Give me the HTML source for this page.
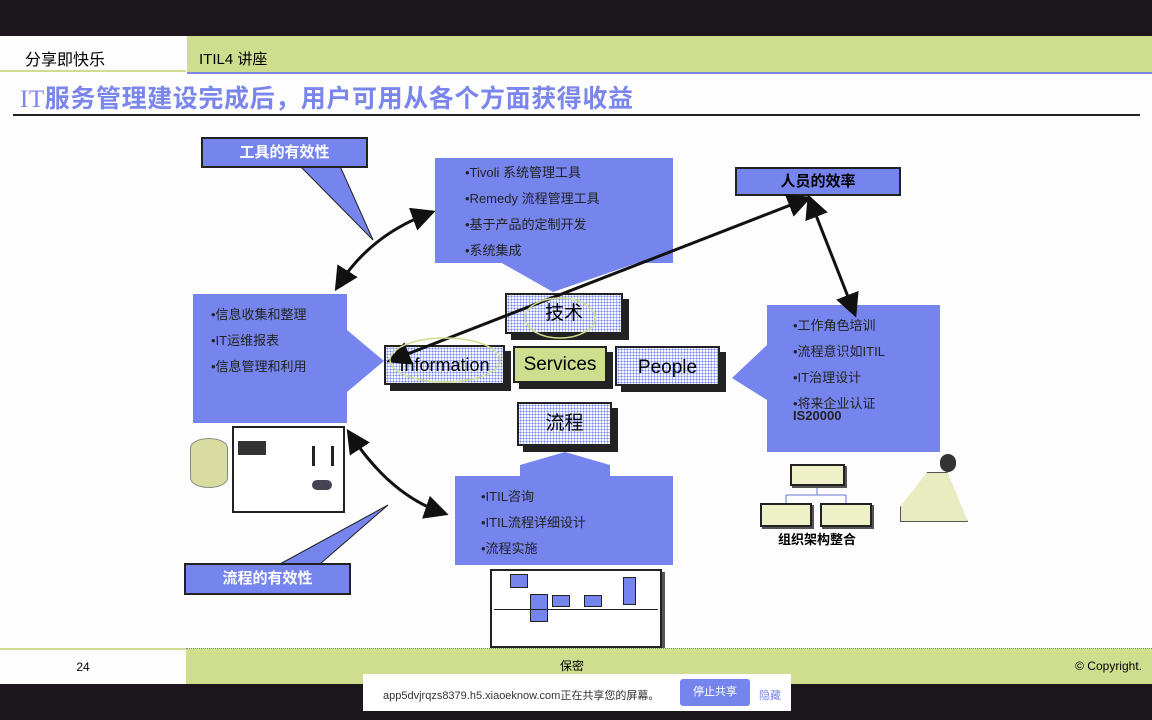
<!DOCTYPE html>
<html><head><meta charset="utf-8"><style>
body{margin:0;width:1152px;height:720px;background:#fcfdfc;position:relative;overflow:hidden;font-family:"Liberation Sans","Noto Sans CJK SC",sans-serif;}
.a{position:absolute;box-sizing:border-box;}
.blue{background:#7685ee;}
.t{font-size:13px;color:#222;line-height:26px;}
.dot{background-color:#f4f6ff;background-image:radial-gradient(#7685ee 0.8px,transparent 0.9px);background-size:3px 3px;border:2px solid #222;box-shadow:6px 6px 0 #222;text-align:center;}
</style></head><body>
<div class="a" style="left:0;top:0;width:1152px;height:36px;background:#1b171c"></div>
<div class="a" style="left:0;top:36px;width:186px;height:36px;border-bottom:2px solid #cfdd8f;font-size:16px;padding:10px 0 0 25px;">分享即快乐</div>
<div class="a" style="left:187px;top:36px;width:965px;height:38px;background:#cfdd8f;border-bottom:2px solid #7b86ec;font-size:15px;padding:12px 0 0 12px;">ITIL4 讲座</div>
<div class="a" style="left:20px;top:79px;font-size:25px;font-weight:bold;color:#7b86ec;letter-spacing:0.6px;"><span style="font-family:'Liberation Serif',serif;font-weight:normal">IT</span>服务管理建设完成后，用户可用从各个方面获得收益</div>
<div class="a" style="left:13px;top:114px;width:1127px;height:2px;background:#222"></div>

<svg class="a" style="left:0;top:0" width="1152" height="720">
<defs><marker id="m" markerWidth="8" markerHeight="8" refX="6" refY="4" orient="auto-start-reverse"><path d="M0,0L8,4L0,8z" fill="#111"/></marker></defs>
<polygon points="300,166 340,166 373,240" fill="#7685ee" stroke="#222"/>
<polygon points="500,262 640,262 553,292" fill="#7685ee"/>
<polygon points="347,330 347,392 384,361" fill="#7685ee"/>
<polygon points="767,345 767,400 732,378" fill="#7685ee"/>
<polygon points="520,476 610,476 610,465 565,452 520,465" fill="#7685ee"/>
<polygon points="280,564 320,564 388,505" fill="#7685ee" stroke="#222"/>
<g stroke="#9aa0e0" stroke-width="1.5" fill="none"><line x1="817" y1="487" x2="817" y2="495"/><line x1="786" y1="495" x2="846" y2="495"/><line x1="786" y1="495" x2="786" y2="503"/><line x1="846" y1="495" x2="846" y2="503"/></g>
</svg>

<div class="a blue" style="left:201px;top:137px;width:167px;height:31px;border:2px solid #222;color:#fff;font-size:15px;font-weight:bold;text-align:center;line-height:27px;">工具的有效性</div>
<div class="a blue t" style="left:435px;top:158px;width:238px;height:105px;padding:2px 0 0 30px;">•Tivoli 系统管理工具<br>•Remedy 流程管理工具<br>•基于产品的定制开发<br>•系统集成</div>
<div class="a blue t" style="left:193px;top:294px;width:154px;height:129px;padding:8px 0 0 18px;">•信息收集和整理<br>•IT运维报表<br>•信息管理和利用</div>
<div class="a blue" style="left:735px;top:167px;width:166px;height:29px;border:2px solid #222;font-size:15px;font-weight:bold;text-align:center;line-height:25px;">人员的效率</div>
<div class="a blue t" style="left:767px;top:305px;width:173px;height:147px;padding:8px 0 0 26px;">•工作角色培训<br>•流程意识如ITIL<br>•IT治理设计<br>•将来企业认证<br><b style="line-height:14px;display:block;margin-top:-8px">IS20000</b></div>
<div class="a blue t" style="left:455px;top:476px;width:218px;height:89px;padding:8px 0 0 26px;">•ITIL咨询<br>•ITIL流程详细设计<br>•流程实施</div>
<div class="a blue" style="left:184px;top:563px;width:167px;height:32px;border:2px solid #222;color:#fff;font-size:15px;font-weight:bold;text-align:center;line-height:28px;">流程的有效性</div>

<div class="a dot" style="left:505px;top:293px;width:118px;height:41px;font-size:19px;line-height:37px;">技术</div>
<div class="a dot" style="left:384px;top:345px;width:121px;height:40px;font-size:18px;line-height:36px;">Information</div>
<div class="a" style="left:513px;top:346px;width:94px;height:37px;background:#cfdd8f;border:2px solid #222;box-shadow:6px 6px 0 #222;font-size:19px;text-align:center;line-height:33px;">Services</div>
<div class="a dot" style="left:615px;top:346px;width:105px;height:40px;font-size:19px;line-height:40px;">People</div>
<div class="a dot" style="left:517px;top:402px;width:95px;height:44px;font-size:19px;line-height:40px;">流程</div>

<div class="a" style="left:190px;top:438px;width:38px;height:50px;border-radius:19px/10px;background:#d8dca0;border:1px solid #888"></div>
<div class="a" style="left:232px;top:426px;width:113px;height:87px;background:#fff;border:2px solid #222;"><div class="a" style="left:4px;top:13px;width:28px;height:14px;background:#333"></div><div class="a" style="left:78px;top:18px;width:22px;height:20px;border-left:3px solid #222;border-right:3px solid #222"></div><div class="a" style="left:78px;top:52px;width:20px;height:10px;background:#445;border-radius:6px"></div></div>
<div class="a" style="left:490px;top:569px;width:172px;height:79px;background:#fff;border:2px solid #222;box-shadow:3px 3px 0 #555;">
<div class="a" style="left:18px;top:3px;width:18px;height:14px;background:#7685ee;border:1px solid #222"></div>
<div class="a" style="left:38px;top:23px;width:18px;height:28px;background:#7685ee;border:1px solid #222"></div>
<div class="a" style="left:60px;top:24px;width:18px;height:12px;background:#7685ee;border:1px solid #222"></div>
<div class="a" style="left:92px;top:24px;width:18px;height:12px;background:#7685ee;border:1px solid #222"></div>
<div class="a" style="left:131px;top:6px;width:13px;height:28px;background:#7685ee;border:1px solid #222"></div>
<div class="a" style="left:2px;top:38px;width:164px;height:1px;background:#222"></div></div>

<div class="a" style="left:790px;top:464px;width:55px;height:22px;background:#eef0c8;border:2px solid #222;box-shadow:2px 2px 0 #555"></div>
<div class="a" style="left:760px;top:503px;width:52px;height:24px;background:#eef0c8;border:2px solid #222;box-shadow:2px 2px 0 #555"></div>
<div class="a" style="left:820px;top:503px;width:52px;height:24px;background:#eef0c8;border:2px solid #222;box-shadow:2px 2px 0 #555"></div>
<div class="a" style="left:778px;top:529px;font-size:13px;font-weight:bold;">组织架构整合</div>
<div class="a" style="left:940px;top:454px;width:16px;height:18px;border-radius:8px;background:#333"></div>
<div class="a" style="left:900px;top:472px;width:68px;height:50px;background:#e8ecc0;border:1px solid #555;clip-path:polygon(40% 0,70% 0,100% 100%,0 100%,0 70%)"></div>

<svg class="a" style="left:0;top:0" width="1152" height="720" fill="none" stroke="#111" stroke-width="3">
<line x1="392" y1="360" x2="806" y2="199" marker-start="url(#m)" marker-end="url(#m)"/>
<line x1="810" y1="200" x2="854" y2="312" marker-start="url(#m)" marker-end="url(#m)"/>
<path d="M338,286 Q370,235 430,213" marker-start="url(#m)" marker-end="url(#m)"/>
<path d="M350,434 Q390,495 443,513" marker-start="url(#m)" marker-end="url(#m)"/>
<ellipse cx="445" cy="360" rx="55" ry="22" stroke="#cfdd8f" stroke-width="1.5"/>
<ellipse cx="560" cy="318" rx="35" ry="20" stroke="#cfdd8f" stroke-width="1.5"/>
</svg>

<div class="a" style="left:0;top:648px;width:186px;height:36px;border-top:2px solid #cfdd8f;font-size:12px;text-align:center;line-height:34px;padding-right:20px">24</div>
<div class="a" style="left:186px;top:648px;width:966px;height:36px;background:#cfdd8f;border-top:1px dotted #7b86ec;font-size:12px;"><span class="a" style="left:374px;top:8px">保密</span><span class="a" style="right:10px;top:10px">© Copyright.</span></div>
<div class="a" style="left:0;top:684px;width:1152px;height:36px;background:#1b171c"></div>
<div class="a" style="left:363px;top:674px;width:428px;height:37px;background:#fff;font-size:11px;color:#333;"><span class="a" style="left:20px;top:13px">app5dvjrqzs8379.h5.xiaoeknow.com正在共享您的屏幕。</span><div class="a" style="left:317px;top:5px;width:70px;height:27px;background:#7685ee;border-radius:3px;color:#fff;text-align:center;line-height:27px">停止共享</div><span class="a" style="left:396px;top:13px;color:#7685ee">隐藏</span></div>
</body></html>
